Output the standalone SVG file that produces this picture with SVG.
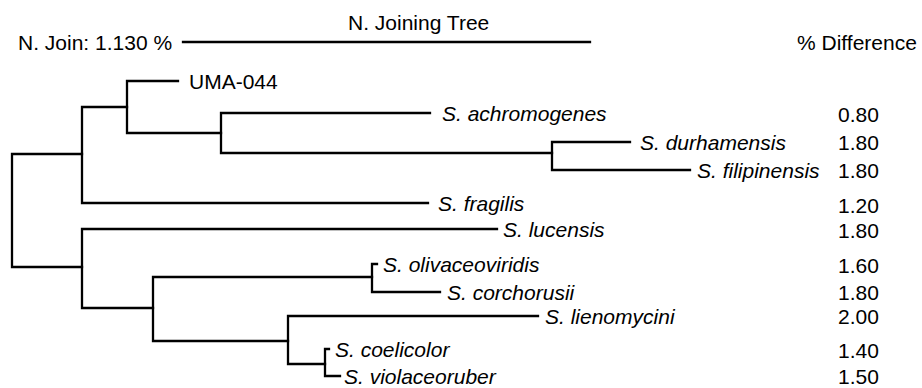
<svg xmlns="http://www.w3.org/2000/svg" width="922" height="388" viewBox="0 0 922 388">
<style>
text{font-family:"Liberation Sans",Arial,Helvetica,sans-serif;font-size:21px;fill:#000}
.sp{font-style:italic}
.br{fill:none;stroke:#000;stroke-width:2.3;stroke-linecap:square}
</style>
<rect width="922" height="388" fill="#fff"/>
<g id="header">
<text x="348" y="30">N. Joining Tree</text>
<text x="18" y="50">N. Join: 1.130 %</text>
<line class="br" x1="183" y1="42" x2="590" y2="42"/>
<text x="797" y="50">% Difference</text>
</g>
<g id="connectors">
<path class="br" d="M12,154 V267 M12,154 H82 M12,267 H82"/>
<path class="br" d="M82,107 V203 M82,107 H127 M82,203 H428"/>
<path class="br" d="M127,81 V133 M127,81 H178 M127,133 H221"/>
<path class="br" d="M221,113 V153 M221,113 H430 M221,153 H552"/>
<path class="br" d="M552,142 V170 M552,142 H630 M552,170 H690"/>
<path class="br" d="M82,229 V308 M82,229 H497 M82,308 H153"/>
<path class="br" d="M153,277 V341 M153,277 H372 M153,341 H288"/>
<path class="br" d="M372,264 V292 M372,264 H377 M372,292 H440"/>
<path class="br" d="M288,316 V364 M288,316 H538 M288,364 H325"/>
<path class="br" d="M325,349 V376 M325,349 H329 M325,376 H340"/>
</g>
<g id="UMA-044"><text x="189" y="89">UMA-044</text></g>
<g id="achromogenes"><text class="sp" x="442" y="121">S. achromogenes</text><text x="838" y="122">0.80</text></g>
<g id="durhamensis"><text class="sp" x="640" y="150">S. durhamensis</text><text x="838" y="150">1.80</text></g>
<g id="filipinensis"><text class="sp" x="697" y="178">S. filipinensis</text><text x="838" y="178">1.80</text></g>
<g id="fragilis"><text class="sp" x="438" y="211">S. fragilis</text><text x="838" y="213">1.20</text></g>
<g id="lucensis"><text class="sp" x="503" y="237">S. lucensis</text><text x="838" y="238">1.80</text></g>
<g id="olivaceoviridis"><text class="sp" x="383" y="272">S. olivaceoviridis</text><text x="838" y="273">1.60</text></g>
<g id="corchorusii"><text class="sp" x="447" y="300">S. corchorusii</text><text x="838" y="300">1.80</text></g>
<g id="lienomycini"><text class="sp" x="545" y="324">S. lienomycini</text><text x="838" y="324">2.00</text></g>
<g id="coelicolor"><text class="sp" x="335" y="357">S. coelicolor</text><text x="838" y="358">1.40</text></g>
<g id="violaceoruber"><text class="sp" x="344" y="384">S. violaceoruber</text><text x="838" y="384">1.50</text></g>
</svg>
